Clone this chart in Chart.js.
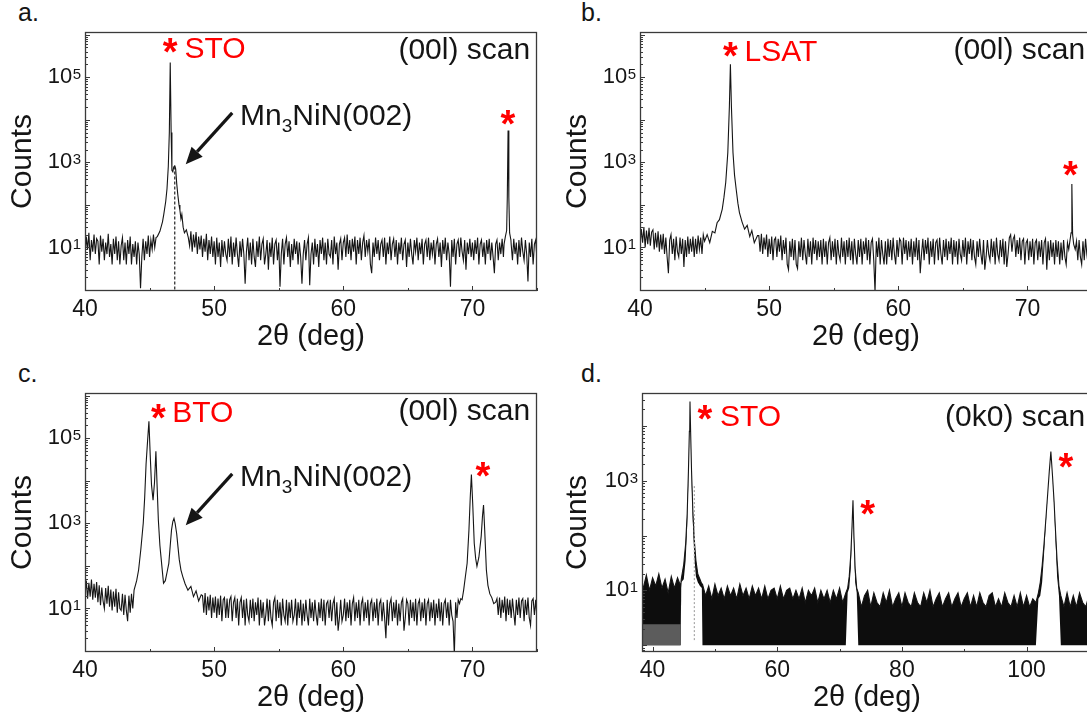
<!DOCTYPE html>
<html>
<head>
<meta charset="utf-8">
<script src="https://cdn.jsdelivr.net/npm/chart.js"></script>
<style>
  html, body { margin: 0; padding: 0; background: #fff; }
  body { width: 1087px; height: 715px; overflow: hidden; position: relative;
         font-family: "Liberation Sans", Arial, sans-serif; }
  .panel { position: absolute; width: 545px; height: 362px; }
  .tag { position: absolute; font-size: 25px; line-height: 25px; color: #151515; }
</style>
</head>
<body>
<div class="tag" style="left:18px; top:0px;">a.</div>
<div class="tag" style="left:581px; top:0px;">b.</div>
<div class="tag" style="left:18px; top:361px;">c.</div>
<div class="tag" style="left:581px; top:361px;">d.</div>

<div class="panel" style="left:0; top:0;"><canvas id="chartA" width="545" height="362"></canvas></div>
<div class="panel" style="left:555px; top:0;"><canvas id="chartB" width="545" height="362"></canvas></div>
<div class="panel" style="left:0; top:361px;"><canvas id="chartC" width="545" height="362"></canvas></div>
<div class="panel" style="left:555px; top:361px;"><canvas id="chartD" width="545" height="362"></canvas></div>

<script>
// ---------- data ----------
// background noise every 0.1 deg from 40.0 to 75.0, one row per degree (null = inside a peak)
const scanStart = 40, scanStep = 0.1;

// a. Mn3NiN on STO, (00l) scan
const aBgCounts = [
  6, 18, 9, 22, 5, 15, 8, 20, 7, 16,            // 40
  14, 4, 19, 8, 16, 5, 13, 7, 21, 6,            // 41
  12, 4, 16, 7, 18, 5, 14, 4, 11, 17,           // 42
  5, 13, 4, 15, 7, 18, 4, 12, 6, 14,            // 43
  4, 13, 7, 1.1, 6, 16, 5, 14, 7, 19,           // 44
  6, 15, 9, 20, 10, 17, null, null, null, null, // 45
  null, null, null, null, null, null, null, null, null, null, // 46
  null, null, null, null, null, null, null, null, null, null, // 47
  null, 11, 24, 8, 20, 10, 23, 7, 18, 9,        // 48
  19, 6, 16, 8, 21, 5, 15, 7, 18, 6,            // 49
  14, 4, 17, 6, 13, 3.5, 15, 6, 14, 7,          // 50
  5, 16, 6, 18, 4, 13, 6, 17, 7, 3.5,           // 51
  14, 6, 16, 7, 1.4, 8, 17, 5, 13, 4,           // 52
  16, 6, 3.5, 14, 6, 18, 5, 12, 16, 4,          // 53
  7, 15, 3, 13, 6, 17, 4, 12, 15, 5,            // 54
  13, 1.2, 7, 16, 4, 12, 17, 6, 14, 3.5,        // 55
  12, 5, 16, 7, 14, 4, 13, 6, 1.4, 7,           // 56
  15, 5, 12, 17, 1.3, 7, 13, 4, 16, 6,          // 57
  12, 3.5, 15, 7, 17, 5, 13, 4, 16, 7,          // 58
  6, 15, 4, 18, 7, 13, 3, 12, 16, 5,            // 59
  13, 17, 6, 20, 7, 15, 5, 16, 8, 18,           // 60
  4, 15, 7, 17, 5, 13, 19, 6, 15, 8,            // 61
  16, 4, 2.5, 13, 6, 17, 7, 15, 5, 12,          // 62
  15, 6, 17, 4, 13, 7, 18, 5, 12, 16,           // 63
  6, 15, 4, 13, 7, 17, 5, 12, 15, 3.5,          // 64
  13, 6, 16, 7, 4, 15, 8, 17, 5, 13,            // 65
  7, 16, 4, 12, 15, 6, 17, 5, 13, 7,            // 66
  15, 4, 12, 16, 6, 13, 3.5, 15, 7, 17,         // 67
  5, 13, 7, 1.2, 15, 6, 16, 4, 12, 15,          // 68
  6, 17, 8, 5, 15, 3, 13, 7, 16, 6,             // 69
  13, 5, 15, 7, 17, 4, 12, 15, 6, 13,           // 70
  4, 15, 7, 16, 5, 13, 6, 2.5, 12, 15,          // 71
  5, 13, 7, 16, 6, null, null, null, null, null, // 72
  12, 5, 16, 7, 13, 4, 15, 6, 17, 8,            // 73
  5, 15, 7, 1.6, 13, 6, 16, 4, 12, 15,          // 74
  5                                             // 75
];
const aStoAngles = [45.6, 45.8, 46.0, 46.1, 46.25, 46.35, 46.45, 46.53, 46.6, 46.67, 46.73, 46.8,
  46.87, 46.95, 47.02, 47.1, 47.18, 47.28, 47.35, 47.43, 47.5, 47.6, 47.7, 47.85, 48.0];
const aStoCounts = [18, 24, 40, 60, 120, 240, 800, 5000, 220000, 5000, 650, 600,
  780, 830, 700, 320, 180, 100, 75, 47, 60, 30, 22, 26, 17];
const aSto3Angles = [72.45, 72.55, 72.65, 72.7, 72.76, 72.82, 72.88, 72.98];
const aSto3Counts = [12, 18, 25, 150, 5600, 150, 22, 15];
const aFilmAngle = 46.95, aFilmTop = 800;

// b. Mn3NiN on LSAT, (00l) scan
const bBgCounts = [
  11, 27, 13, 30, 10, 25, 12, 29, 11, 23,       // 40
  26, 9, 22, 10, 24, 8, 20, 9, 21, 7,           // 41
  17, 6, 2.5, 15, 20, 7, 16, 5, 18, 8,          // 42
  6, 17, 7, 16, 3.5, 15, 6, 18, 7, 16,          // 43
  8, 18, 6, 16, 7, 19, 9, 17, 7, 20,            // 44
  null, null, null, null, null, null, null, null, null, null, // 45
  null, null, null, null, null, null, null, null, null, null, // 46
  null, null, null, null, null, null, null, null, null, null, // 47
  null, null, null, null, null, null, null, null, null, null, // 48
  null, null, 19, 8, 21, 7, 17, 9, 20, 6,       // 49
  16, 7, 18, 5, 15, 17, 6, 16, 8, 19,           // 50
  5, 15, 7, 17, 4, 3, 14, 6, 16, 5,             // 51
  15, 4, 3.2, 14, 6, 17, 5, 15, 7, 4,           // 52
  16, 6, 14, 4, 17, 7, 15, 5, 14, 6,            // 53
  15, 4, 16, 6, 14, 4, 13, 17, 5, 14,           // 54
  6, 16, 4, 15, 7, 5, 17, 6, 14, 4,             // 55
  15, 6, 17, 5, 14, 4, 16, 7, 4, 15,            // 56
  6, 16, 4, 14, 7, 17, 5, 15, 4, 13,            // 57
  16, 5, 0.9, 14, 6, 17, 4, 15, 7, 4,           // 58
  14, 4, 16, 6, 15, 5, 17, 7, 4, 15,            // 59
  6, 16, 14, 4, 17, 7, 15, 5, 14, 6,            // 60
  16, 4, 14, 6, 17, 5, 15, 2.5, 7, 16,          // 61
  5, 15, 7, 17, 4, 14, 6, 16, 4, 13,            // 62
  15, 5, 17, 7, 4, 15, 6, 16, 5, 14,            // 63
  7, 17, 4, 15, 6, 14, 4, 16, 7, 5,             // 64
  15, 6, 17, 4, 14, 7, 16, 5, 15, 6,            // 65
  4, 14, 6, 16, 7, 4, 15, 3, 6, 15,             // 66
  7, 5, 16, 6, 14, 4, 17, 7, 5, 15,             // 67
  6, 16, 4, 14, 3.5, 7, 17, 20, 8, 16,          // 68
  19, 6, 15, 7, 17, 5, 14, 16, 4, 13,           // 69
  15, 5, 14, 6, 16, 4, 13, 15, 5, 14,           // 70
  6, 15, 4, 13, 16, 3, 14, 5, 15, 6,            // 71
  13, 4, 15, 6, 14, 4, 13, 5, 15, 6,            // 72
  4, 13, null, null, null, null, null, null, 14, 5, // 73
  15, 6, 4, 14, 5, 16, 7, 4, 15, 6,             // 74
  13                                            // 75
];
const bLsatAngles = [45.0, 45.2, 45.4, 45.6, 45.8, 45.97, 46.15, 46.37, 46.5, 46.64, 46.8, 46.92,
  47.0, 47.08, 47.2, 47.32, 47.45, 47.58, 47.7, 47.9, 48.1, 48.3, 48.5, 48.66, 48.85, 49.1];
const bLsatCounts = [14, 20, 13, 24, 22, 38, 45, 80, 150, 340, 1700, 20000,
  200000, 20000, 1700, 500, 230, 110, 66, 40, 27, 33, 18, 25, 13, 19];
const bLsat3Angles = [73.2, 73.3, 73.38, 73.44, 73.5, 73.58, 73.7];
const bLsat3Counts = [9, 15, 22, 310, 20, 12, 9];

// c. Mn3NiN on BTO, (00l) scan
const cBgCounts = [
  20, 45, 17, 40, 19, 48, 16, 38, 18, 42,       // 40
  14, 35, 12, 31, 15, 10, 30, 13, 34, 11,       // 41
  28, 9, 25, 11, 29, 8, 24, 10, 9, 22,          // 42
  7, 21, 9, 5, 20, 8, 22, 10, null, null,       // 43
  null, null, null, null, null, null, null, null, null, null, // 44
  null, null, null, null, null, null, null, null, null, null, // 45
  null, null, null, null, null, null, null, null, null, null, // 46
  null, null, null, null, null, null, null, null, null, null, // 47
  null, null, null, null, null, null, null, null, null, null, // 48
  null, 20, 8, 23, 7, 19, 9, 21, 6, 18,         // 49
  8, 19, 6, 17, 7, 20, 5, 16, 18, 6,            // 50
  17, 6, 16, 19, 5, 14, 18, 6, 17, 4,           // 51
  14, 18, 6, 16, 4, 17, 7, 5, 16, 6,            // 52
  17, 5, 14, 7, 18, 4, 16, 6, 14, 4,            // 53
  7, 17, 5, 16, 6, 4, 14, 18, 5, 16,            // 54
  6, 14, 4, 17, 7, 5, 16, 4, 14, 6,             // 55
  16, 5, 7, 17, 4, 14, 6, 16, 4, 13,            // 56
  5, 16, 7, 4, 17, 6, 14, 5, 16, 7,             // 57
  4, 14, 6, 17, 5, 16, 4, 13, 15, 6,            // 58
  16, 5, 13, 17, 4, 14, 3, 6, 16, 5,            // 59
  7, 17, 5, 14, 6, 16, 4, 13, 18, 5,            // 60
  14, 6, 16, 4, 13, 17, 5, 14, 6, 16,           // 61
  4, 13, 16, 5, 14, 6, 17, 4, 13, 16,           // 62
  5, 14, 6, 2, 16, 4, 13, 17, 5, 14,            // 63
  6, 16, 4, 13, 5, 14, 17, 3, 6, 16,            // 64
  13, 4, 16, 6, 14, 5, 17, 4, 13, 16,           // 65
  5, 14, 6, 17, 4, 13, 16, 5, 14, 6,            // 66
  16, 4, 13, 6, 17, 5, 14, 4, 13, 16,           // 67
  6, 14, 4, 16, 7, 5, 0.8, 14, 6, 16,           // 68
  13, 17, null, null, null, null, null, null, null, null, // 69
  null, null, null, null, null, null, null, null, null, null, // 70
  null, null, null, null, null, null, null, null, null, 17, // 71
  7, 18, 6, 16, 8, 19, 5, 17, 7, 16,            // 72
  6, 17, 8, 4, 16, 7, 18, 6, 15, 17,            // 73
  5, 16, 7, 18, 6, 4, 15, 17, 7, 16,            // 74
  6                                             // 75
];
const cBtoAngles = [43.8, 44.0, 44.15, 44.32, 44.51, 44.62, 44.73, 44.85, 44.95, 45.05, 45.15, 45.27,
  45.38, 45.49, 45.58, 45.68, 45.8, 45.95, 46.08, 46.22, 46.35, 46.49, 46.6, 46.7, 46.8, 46.89,
  46.98, 47.1, 47.2, 47.3, 47.43, 47.57, 47.75, 47.97, 48.2, 48.4, 48.6, 48.8, 49.0];
const cBtoCounts = [27, 45, 80, 240, 1000, 4000, 25000, 90000, 250000, 40000, 8000, 3500,
  9000, 49000, 8000, 1200, 300, 100, 39, 45, 70, 115, 300, 700, 1100, 1300,
  1000, 570, 280, 140, 80, 56, 38, 27, 33, 19, 26, 15, 21];
const cBto3Angles = [69.2, 69.32, 69.45, 69.59, 69.73, 69.83, 69.92, 70.02, 70.14, 70.25, 70.35,
  70.5, 70.68, 70.78, 70.86, 70.95, 71.08, 71.2, 71.35, 71.5, 71.65, 71.8];
const cBto3Counts = [16, 27, 55, 115, 700, 4000, 14000, 3000, 340, 150, 98,
  160, 500, 1500, 2700, 700, 80, 35, 22, 18, 13, 14];

// d. Mn3NiN on STO, (0k0) scan: top of the dense noise band every 0.5 deg from 38
const dBgStart = 38, dBgStep = 0.5;
const dBgTop = [
  16, 11, 19, 10, 17, 12, 20, 11, 16, 9, 18, 11, 17, 12,    // 38 - 44.5
  null, null, null, null, null, null,                        // 45 - 47.5
  13, 8, 12, 7, 13, 8, 11, 7, 12, 8,                         // 48
  11, 7, 13, 8, 11, 7, 12, 8, 11, 7,                         // 53
  12, 7, 10, 11, 7, 12, 7, 10, 11, 7,                        // 58
  10, 7, 11, 6, 10, 8, 11, 6, 10, 7,                         // 63
  10, 6, 10, 7, 11, 6, 9,                                    // 68 - 71
  null, null, null,                                          // 71.5 - 72.5
  9, 5, 8, 10, 5, 9, 6, 5, 9, 6,                             // 73
  10, 5, 7, 9, 5, 9, 6, 5, 9, 6,                             // 78
  5, 9, 6, 10, 5, 7, 9, 5, 7, 9,                             // 83
  5, 7, 9, 5, 7, 9, 5, 8, 5, 9,                              // 88
  6, 5, 8, 9, 5, 7, 5, 9, 6, 5,                              // 93
  8, 5, 9, 5, 8, 5, 7, 6,                                    // 98 - 101.5
  null, null, null, null, null, null, null,                  // 102 - 105
  8, 5, 9, 5, 8, 5, 9, 6, 5, 8, 5                            // 105.5 - 110.5
];
const dDenseFloor = 2.4, dCountFloor = 1;
const dStoAngles = [44.6, 45.0, 45.3, 45.55, 45.75, 45.9, 46.0, 46.1, 46.25, 46.45, 46.7, 46.95, 47.25, 47.6, 47.9];
const dStoTop    = [16, 30, 70, 250, 1500, 8000, 28000, 8000, 1500, 300, 80, 35, 20, 16, 13];
const dStoBottom = [14, 16, 35, 150, 1200, 8000, 28000, 8000, 1200, 180, 40, 18, 14, 12, 11];
const dSto3Angles = [71.3, 71.55, 71.8, 71.98, 72.15, 72.3, 72.5, 72.75];
const dSto3Top    = [11, 18, 45, 130, 440, 100, 25, 11];
const dSto3Bottom = [9, 11, 25, 110, 440, 80, 14, 9];
const dSto4Angles = [101.9, 102.2, 102.5, 102.8, 103.1, 103.4, 103.65, 103.9, 104.15, 104.4, 104.65, 104.9, 105.2];
const dSto4Top    = [9, 14, 28, 70, 200, 600, 1500, 3400, 1300, 450, 120, 35, 12];
const dSto4Bottom = [7, 8, 14, 45, 170, 600, 1500, 3400, 1300, 400, 80, 18, 8];
const dFilmAngle = 46.7, dFilmTop = 800;

// axes
const xLabelsABC = [40, 50, 60, 70], xMinorABC = [45, 55, 65, 75];
const xLabelsD = [40, 60, 80, 100], xMinorD = [50, 70, 90, 110];
const yExponentsABC = [1, 3, 5], yExponentsD = [1, 3];

// ---------- drawing ----------
const FONT = '"Liberation Sans", Arial, sans-serif';
const INK = '#151515';
const RED = '#ff0000';

function buildScan(start, step, bg, peaks) {
  const spans = peaks.map(p => [p.angles[0], p.angles[p.angles.length - 1]]);
  const pts = [];
  bg.forEach((c, i) => {
    const x = +(start + i * step).toFixed(2);
    if (c === null || spans.some(s => x >= s[0] && x <= s[1])) return;
    pts.push({x: x, y: c});
  });
  peaks.forEach(p => p.angles.forEach((x, i) => pts.push({x: x, y: p.counts[i]})));
  return pts.sort((p, q) => p.x - q.x);
}

function dropLine(angle, top, yMin, color, dash) {
  return {
    data: [{x: angle, y: top}, {x: angle, y: yMin}],
    borderColor: color, borderWidth: 1.2, borderDash: dash, pointRadius: 0, fill: false
  };
}

function drawArrow(ctx, x1, y1, x2, y2) {
  const ang = Math.atan2(y2 - y1, x2 - x1);
  const head = 17, half = 7.5;
  const bx = x2 - head * Math.cos(ang), by = y2 - head * Math.sin(ang);
  ctx.strokeStyle = INK;
  ctx.fillStyle = INK;
  ctx.lineWidth = 3.2;
  ctx.beginPath();
  ctx.moveTo(x1, y1);
  ctx.lineTo(bx, by);
  ctx.stroke();
  ctx.beginPath();
  ctx.moveTo(x2, y2);
  ctx.lineTo(bx + half * Math.sin(ang), by - half * Math.cos(ang));
  ctx.lineTo(bx - half * Math.sin(ang), by + half * Math.cos(ang));
  ctx.closePath();
  ctx.fill();
}

function drawFilmLabel(ctx, px, py) {
  ctx.font = `30px ${FONT}`;
  const cap = ctx.measureText('H').actualBoundingBoxAscent;
  const base = py + cap / 2;
  ctx.fillStyle = INK;
  ctx.textAlign = 'left';
  ctx.textBaseline = 'alphabetic';
  let cx = px;
  ctx.fillText('Mn', cx, base);
  cx += ctx.measureText('Mn').width;
  ctx.font = `19px ${FONT}`;
  ctx.fillText('3', cx, base + 7);
  cx += ctx.measureText('3').width;
  ctx.font = `30px ${FONT}`;
  ctx.fillText('NiN(002)', cx, base);
}

const notesPlugin = {
  id: 'notes',
  afterDatasetsDraw(chart, args, opts) {
    const {ctx, scales: {x, y}} = chart;
    ctx.save();
    (opts.items || []).forEach(it => {
      const px = x.getPixelForValue(it.x), py = y.getPixelForValue(it.y);
      if (it.kind === 'arrow') {
        drawArrow(ctx, px, py, x.getPixelForValue(it.x2), y.getPixelForValue(it.y2));
        return;
      }
      if (it.kind === 'film') {
        drawFilmLabel(ctx, px, py);
        return;
      }
      ctx.textBaseline = 'alphabetic';
      if (it.kind === 'star') {
        ctx.font = `bold 38px ${FONT}`;
        ctx.fillStyle = RED;
        ctx.textAlign = 'center';
        const m = ctx.measureText('*');
        ctx.fillText('*', px, py + (m.actualBoundingBoxAscent - m.actualBoundingBoxDescent) / 2);
        return;
      }
      ctx.font = `30px ${FONT}`;
      ctx.fillStyle = it.color || INK;
      ctx.textAlign = it.align || 'left';
      const cap = ctx.measureText('H').actualBoundingBoxAscent;
      ctx.fillText(it.text, px, py + cap / 2);
    });
    ctx.restore();
  }
};

const framePlugin = {
  id: 'frame',
  afterDatasetsDraw(chart, args, opts) {
    const {ctx, chartArea: area, scales: {x, y}} = chart;
    ctx.save();
    ctx.strokeStyle = '#3a3a3a';
    ctx.lineWidth = 1;
    ctx.beginPath();
    opts.xMajor.concat(opts.xMinor).forEach(v => {
      const px = Math.round(x.getPixelForValue(v)) + 0.5;
      const len = opts.xMajor.includes(v) ? 5 : 3;
      ctx.moveTo(px, area.bottom);
      ctx.lineTo(px, area.bottom - len);
    });
    for (let e = Math.floor(Math.log10(y.min)); e <= Math.ceil(Math.log10(y.max)); e++) {
      for (let m = 1; m <= 9; m++) {
        const v = m * Math.pow(10, e);
        if (v < y.min || v > y.max) continue;
        const py = Math.round(y.getPixelForValue(v)) + 0.5;
        ctx.moveTo(area.left, py);
        ctx.lineTo(area.left + (m === 1 ? 5 : 3), py);
      }
    }
    ctx.stroke();
    ctx.lineWidth = 1.3;
    ctx.strokeRect(area.left + 0.5, area.top + 0.5, area.right - area.left - 1, area.bottom - area.top - 1);

    // y tick labels as 10^n
    ctx.fillStyle = INK;
    opts.yExponents.forEach(n => {
      const py = y.getPixelForValue(Math.pow(10, n));
      ctx.font = `15px ${FONT}`;
      const ew = ctx.measureText(String(n)).width;
      const ex = area.left - 4 - ew;
      ctx.textAlign = 'left';
      ctx.textBaseline = 'alphabetic';
      ctx.fillText(String(n), ex, py + 2);
      ctx.font = `22px ${FONT}`;
      ctx.textAlign = 'right';
      ctx.textBaseline = 'middle';
      ctx.fillText('10', ex - 0.5, py);
    });
    ctx.restore();
  }
};

function makePanel(id, cfg) {
  return new Chart(document.getElementById(id), {
    type: 'line',
    data: {datasets: cfg.datasets},
    options: {
      responsive: false,
      animation: false,
      events: [],
      layout: {padding: {top: 32, right: 8, left: 0, bottom: 0}},
      plugins: {
        legend: {display: false},
        tooltip: {enabled: false},
        frame: {xMajor: cfg.xLabels, xMinor: cfg.xMinor, yExponents: cfg.yExponents},
        notes: {items: cfg.notes}
      },
      scales: {
        x: {
          type: 'linear', min: cfg.xMin, max: cfg.xMax,
          afterBuildTicks: s => { s.ticks = cfg.xLabels.map(v => ({value: v})); },
          afterFit: s => { s.height = 71; },
          ticks: {font: {family: FONT, size: 23}, color: INK, padding: 5, maxRotation: 0, autoSkip: false},
          grid: {display: false, drawTicks: false},
          border: {display: false},
          title: {display: true, text: '2θ (deg)', color: INK, font: {family: FONT, size: 29}, padding: {top: 0, bottom: 8}}
        },
        y: {
          type: 'logarithmic', min: cfg.yMin, max: cfg.yMax,
          afterFit: s => { s.width = cfg.yWidth; },
          ticks: {display: false},
          grid: {display: false, drawTicks: false},
          border: {display: false},
          title: {display: true, text: 'Counts', color: INK, font: {family: FONT, size: 30}, padding: {top: 5, bottom: 0}}
        }
      }
    },
    plugins: [framePlugin, notesPlugin]
  });
}

function scanLine(points) {
  return {data: points, borderColor: INK, borderWidth: 1.1, pointRadius: 0, tension: 0, fill: false};
}

const yMinABC = 0.95, yMaxABC = 1.15e6;

makePanel('chartA', {
  xMin: 40, xMax: 75, yMin: yMinABC, yMax: yMaxABC, yWidth: 85,
  xLabels: xLabelsABC, xMinor: xMinorABC, yExponents: yExponentsABC,
  datasets: [
    scanLine(buildScan(scanStart, scanStep, aBgCounts, [
      {angles: aStoAngles, counts: aStoCounts}, {angles: aSto3Angles, counts: aSto3Counts}])),
    dropLine(aFilmAngle, aFilmTop, yMinABC, '#222', [3, 2])
  ],
  notes: [
    {kind: 'star', x: 46.6, y: 5.6e5},
    {kind: 'text', text: 'STO', x: 47.7, y: 4.8e5, color: RED},
    {kind: 'text', text: '(00l) scan', x: 74.47, y: 4.6e5, align: 'right'},
    {kind: 'star', x: 72.75, y: 1.15e4},
    {kind: 'film', x: 52.0, y: 1.26e4},
    {kind: 'arrow', x: 51.4, y: 1.45e4, x2: 47.8, y2: 900}
  ]
});

makePanel('chartB', {
  xMin: 40, xMax: 75, yMin: yMinABC, yMax: yMaxABC, yWidth: 85,
  xLabels: xLabelsABC, xMinor: xMinorABC, yExponents: yExponentsABC,
  datasets: [
    scanLine(buildScan(scanStart, scanStep, bBgCounts, [
      {angles: bLsatAngles, counts: bLsatCounts}, {angles: bLsat3Angles, counts: bLsat3Counts}]))
  ],
  notes: [
    {kind: 'star', x: 47.0, y: 4.5e5},
    {kind: 'text', text: 'LSAT', x: 48.1, y: 4.2e5, color: RED},
    {kind: 'text', text: '(00l) scan', x: 74.47, y: 4.6e5, align: 'right'},
    {kind: 'star', x: 73.33, y: 700}
  ]
});

makePanel('chartC', {
  xMin: 40, xMax: 75, yMin: yMinABC, yMax: yMaxABC, yWidth: 85,
  xLabels: xLabelsABC, xMinor: xMinorABC, yExponents: yExponentsABC,
  datasets: [
    scanLine(buildScan(scanStart, scanStep, cBgCounts, [
      {angles: cBtoAngles, counts: cBtoCounts}, {angles: cBto3Angles, counts: cBto3Counts}]))
  ],
  notes: [
    {kind: 'star', x: 45.68, y: 4.3e5},
    {kind: 'text', text: 'BTO', x: 46.76, y: 4.2e5, color: RED},
    {kind: 'text', text: '(00l) scan', x: 74.47, y: 4.6e5, align: 'right'},
    {kind: 'star', x: 70.81, y: 1.8e4},
    {kind: 'film', x: 52.0, y: 1.26e4},
    {kind: 'arrow', x: 51.4, y: 1.45e4, x2: 47.8, y2: 900}
  ]
});

// panel d: the dense noise is a filled band from its top down to the count floor,
// with the sparser strip below the dense part lightened on the low-angle side
const dBgDense = dBgTop.map(v => v === null ? null : dDenseFloor);
const dBgFloor = dBgTop.map(v => v === null ? null : dCountFloor);
const dPeaks = [
  {angles: dStoAngles, top: dStoTop, bottom: dStoBottom},
  {angles: dSto3Angles, top: dSto3Top, bottom: dSto3Bottom},
  {angles: dSto4Angles, top: dSto4Top, bottom: dSto4Bottom}
];
const dYMin = 0.75, dYMax = 4e4;

makePanel('chartD', {
  xMin: 38.3, xMax: 110.5, yMin: dYMin, yMax: dYMax, yWidth: 87,
  xLabels: xLabelsD, xMinor: xMinorD, yExponents: yExponentsD,
  datasets: [
    dropLine(dFilmAngle, dFilmTop, 1.2, '#a8a8a8', [2, 2]),
    {
      data: buildScan(dBgStart, dBgStep, dBgDense, dPeaks.map(p => ({angles: p.angles, counts: p.bottom}))),
      borderColor: 'rgba(0,0,0,0)', borderWidth: 0, pointRadius: 0, tension: 0,
      fill: 3, backgroundColor: 'rgba(0,0,0,0)',
      segment: {backgroundColor: c => c.p0.parsed.x < 45 ? '#5c5c5c' : 'rgba(0,0,0,0)'}
    },
    Object.assign(scanLine(buildScan(dBgStart, dBgStep, dBgTop,
      dPeaks.map(p => ({angles: p.angles, counts: p.top})))), {fill: 3, backgroundColor: '#0d0d0d'}),
    {
      data: buildScan(dBgStart, dBgStep, dBgFloor, dPeaks.map(p => ({angles: p.angles, counts: p.bottom}))),
      borderColor: 'rgba(0,0,0,0)', borderWidth: 0, pointRadius: 0, tension: 0, fill: false
    }
  ],
  notes: [
    {kind: 'star', x: 48.4, y: 1.8e4},
    {kind: 'text', text: 'STO', x: 50.8, y: 1.5e4, color: RED},
    {kind: 'text', text: '(0k0) scan', x: 109.4, y: 1.5e4, align: 'right'},
    {kind: 'star', x: 74.5, y: 320},
    {kind: 'star', x: 106.3, y: 2300}
  ]
});
</script>
</body>
</html>
